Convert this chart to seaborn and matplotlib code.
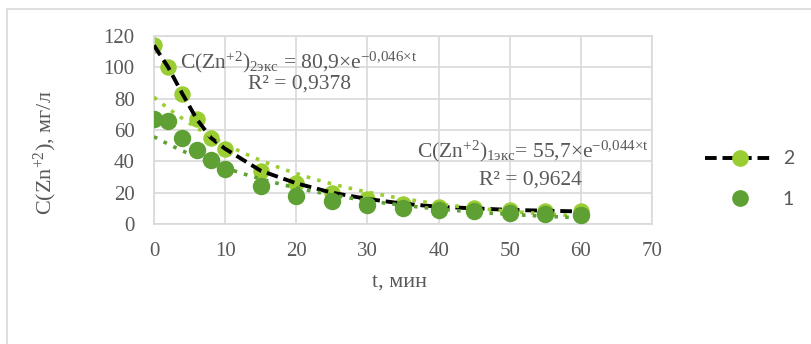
import numpy as np
import matplotlib
matplotlib.use("Agg")
import matplotlib.pyplot as plt
from matplotlib.lines import Line2D
from matplotlib.patches import Rectangle
import seaborn as sns
import pandas as pd

# ----------------------------------------------------------
# data
# ----------------------------------------------------------
t_min = [0, 2, 4, 6, 8, 10, 15, 20, 25, 30, 35, 40, 45, 50, 55, 60]
c_zn_2 = [114, 100, 83, 67, 55, 48, 34, 26, 20, 16, 13, 11, 10, 9, 8.5, 8]
c_zn_1 = [67, 66, 55, 47, 41, 35, 24, 18, 15, 12, 10.5, 9, 8, 7, 6.5, 6]
# exponential trendline coefficients (as shown on the chart)
fit_2 = (80.9, -0.046)
fit_1 = (55.7, -0.044)

light_green = "#9ACD32"
dark_green = "#5EA033"
grid_col = "#D9D9D9"
text_col = "#595959"

sns.set_style("white")
plt.rcParams["font.family"] = ["Liberation Serif", "DejaVu Serif"]
plt.rcParams["mathtext.fontset"] = "custom"
plt.rcParams["mathtext.rm"] = "Liberation Serif"
plt.rcParams["mathtext.it"] = "Liberation Serif:italic"

df = pd.DataFrame({"t": t_min, "c2": c_zn_2, "c1": c_zn_1})

fig = plt.figure(figsize=(8.11, 3.44), dpi=100)
ax = fig.add_axes([154 / 811, 1 - 224 / 344, (652 - 154) / 811, (224 - 36) / 344])

# outer chart border
fig.patches.append(Rectangle((7 / 811, -0.05), 1.1, 1 - 9 / 344 + 0.05,
                             transform=fig.transFigure, fill=False,
                             edgecolor=grid_col, lw=1.2))

# trendlines
tt = np.linspace(0, 60, 200)
sns.lineplot(x=tt, y=fit_2[0] * np.exp(fit_2[1] * tt), ax=ax, color=light_green,
             linestyle=(0, (1, 2)), lw=2.6, zorder=4)
sns.lineplot(x=tt, y=fit_1[0] * np.exp(fit_1[1] * tt), ax=ax, color=dark_green,
             linestyle=(0, (1, 2)), lw=2.6, zorder=4)

# series 2: markers with black dashed line
sns.lineplot(data=df, x="t", y="c2", ax=ax, color="black", lw=2.8,
             linestyle=(0, (3, 1.5)), zorder=3)
sns.scatterplot(data=df, x="t", y="c2", ax=ax, color=light_green, s=120,
                edgecolor=light_green, zorder=2)
# series 1
sns.scatterplot(data=df, x="t", y="c1", ax=ax, color=dark_green, s=135,
                edgecolor=dark_green, zorder=5)

ax.set_xlim(0, 70)
ax.set_ylim(0, 120)
ax.set_xticks(np.arange(0, 71, 10))
ax.set_yticks(np.arange(0, 121, 20))
ax.grid(True, color=grid_col, lw=1.2)
ax.set_axisbelow(True)
for s in ax.spines.values():
    s.set_color(grid_col)
    s.set_linewidth(1.2)
ax.tick_params(length=0, labelsize=15, labelcolor=text_col)
ax.tick_params(axis="y", pad=14)
ax.tick_params(axis="x", pad=13)
ax.set_xlabel("")
ax.set_ylabel("")

fig.text(400 / 811, 1 - 282 / 344, "t, мин", ha="center", va="center",
         fontsize=16, color=text_col)
fig.text(45 / 811, 1 - 153 / 344, r"C(Zn$^{+2}$), мг/л", rotation=90,
         ha="center", va="center", fontsize=16, color=text_col)

ax.text(3.65, 103, r"C(Zn$^{+2}$)$_{\mathrm{2экс}}$ = 80,9×e$^{\mathrm{-0{,}046×t}}$",
        fontsize=15.5, color=text_col, ha="left", va="center")
ax.text(20.5, 89.5, "R² = 0,9378", fontsize=15.5, color=text_col, ha="center", va="center")
ax.text(37.0, 46.5, r"C(Zn$^{+2}$)$_{\mathrm{1экс}}$= 55,7×e$^{\mathrm{-0{,}044×t}}$",
        fontsize=15.5, color=text_col, ha="left", va="center")
ax.text(52.9, 28, "R² = 0,9624", fontsize=15.5, color=text_col, ha="center", va="center")

handles = [
    Line2D([], [], color="black", lw=2.8, linestyle=(0, (3, 1.5)), marker="o",
           markersize=11, markerfacecolor=light_green, markeredgecolor=light_green),
    Line2D([], [], color="none", marker="o", markersize=11,
           markerfacecolor=dark_green, markeredgecolor=dark_green),
]
leg = fig.legend(handles, ["2", "1"], loc="center left",
                 bbox_to_anchor=(705 / 811, 1 - 179 / 344), frameon=False,
                 borderpad=0, borderaxespad=0,
                 handlelength=3.6, labelspacing=1.2, handletextpad=0.4,
                 prop={"family": "Lato", "size": 14})
for txt in leg.get_texts():
    txt.set_color(text_col)

fig.savefig("out.png", dpi=100)
